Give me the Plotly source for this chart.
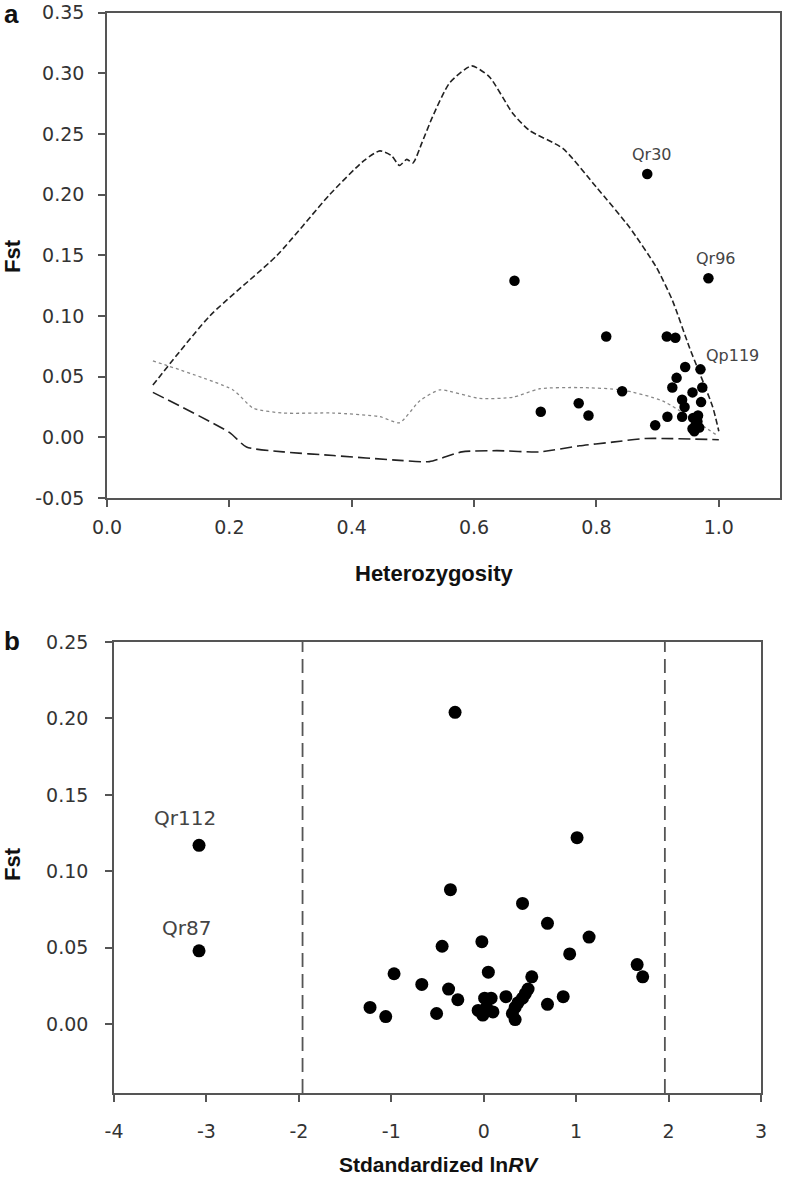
import plotly.graph_objects as go

# ---------- Panel a data ----------
upper_x = [0.075, 0.168, 0.278, 0.364, 0.42, 0.446, 0.465, 0.478, 0.49, 0.50, 0.515, 0.532, 0.56, 0.596, 0.625, 0.663, 0.69, 0.745, 0.80, 0.854, 0.898, 0.924, 0.952, 0.99, 1.0]
upper_y = [0.043, 0.10, 0.15, 0.20, 0.228, 0.236, 0.232, 0.224, 0.229, 0.226, 0.243, 0.264, 0.292, 0.306, 0.297, 0.267, 0.253, 0.238, 0.206, 0.173, 0.140, 0.113, 0.074, 0.025, 0.005]

lower_x = [0.075, 0.20, 0.228, 0.288, 0.37, 0.478, 0.527, 0.58, 0.637, 0.707, 0.772, 0.826, 0.88, 1.0]
lower_y = [0.037, 0.004, -0.008, -0.012, -0.015, -0.019, -0.020, -0.012, -0.011, -0.012, -0.007, -0.004, -0.001, -0.002]

mid_x = [0.075, 0.206, 0.239, 0.288, 0.37, 0.446, 0.478, 0.511, 0.544, 0.609, 0.663, 0.707, 0.772, 0.842, 0.908, 0.996]
mid_y = [0.063, 0.039, 0.024, 0.020, 0.020, 0.017, 0.012, 0.030, 0.039, 0.032, 0.033, 0.040, 0.041, 0.039, 0.030, 0.002]

het = [0.883, 0.983, 0.666, 0.816, 0.915, 0.929, 0.945, 0.970, 0.931, 0.924, 0.973, 0.957, 0.842,
       0.940, 0.971, 0.944, 0.771, 0.709, 0.787, 0.916, 0.940, 0.896,
       0.958, 0.965, 0.962, 0.968, 0.957, 0.966, 0.960]
fst_a = [0.217, 0.131, 0.129, 0.083, 0.083, 0.082, 0.058, 0.056, 0.049, 0.041, 0.041, 0.037, 0.038,
         0.031, 0.029, 0.025, 0.028, 0.021, 0.018, 0.017, 0.017, 0.010,
         0.016, 0.013, 0.010, 0.008, 0.007, 0.018, 0.005]

labels_a = ["Qr30", "Qr96", "Qp119"]
labels_a_x = [0.891, 0.996, 1.022]
labels_a_y = [0.233, 0.147, 0.067]

# ---------- Panel b data ----------
lnrv = [-3.08, -3.08, -1.23, -1.06, -0.97, -0.31, 1.01, -0.36, 0.42, 0.69, 1.14, -0.02, -0.45, 0.93,
        1.66, 1.72, 0.05, 0.52, -0.67, -0.38, -0.28, 0.86, 0.24, 0.69, -0.51,
        0.01, 0.08, -0.06, -0.01, 0.10, 0.03,
        0.48, 0.45, 0.42, 0.37, 0.34, 0.31, 0.34]
fst_b = [0.117, 0.048, 0.011, 0.005, 0.033, 0.204, 0.122, 0.088, 0.079, 0.066, 0.057, 0.054, 0.051, 0.046,
         0.039, 0.031, 0.034, 0.031, 0.026, 0.023, 0.016, 0.018, 0.018, 0.013, 0.007,
         0.017, 0.017, 0.009, 0.006, 0.008, 0.011,
         0.023, 0.020, 0.017, 0.014, 0.011, 0.007, 0.003]

labels_b = ["Qr112", "Qr87"]
labels_b_x = [-3.23, -3.22]
labels_b_y = [0.135, 0.063]

crit = [-1.96, 1.96]

FONT = "Liberation Sans, Arial, sans-serif"
TICKFONT = "DejaVu Sans, Verdana, sans-serif"
AX = "#555555"
TXT = "#333333"

fig = go.Figure()

fig.add_trace(go.Scatter(x=upper_x, y=upper_y, mode="lines", xaxis="x", yaxis="y",
                         line=dict(color="#222222", width=1.6, dash="6px,3px", shape="spline", smoothing=0.6),
                         showlegend=False, hoverinfo="skip"))
fig.add_trace(go.Scatter(x=lower_x, y=lower_y, mode="lines", xaxis="x", yaxis="y",
                         line=dict(color="#222222", width=1.6, dash="12px,5px", shape="spline", smoothing=0.6),
                         showlegend=False, hoverinfo="skip"))
fig.add_trace(go.Scatter(x=mid_x, y=mid_y, mode="lines", xaxis="x", yaxis="y",
                         line=dict(color="#888888", width=1.3, dash="dot", shape="spline", smoothing=0.6),
                         showlegend=False, hoverinfo="skip"))
fig.add_trace(go.Scatter(x=het, y=fst_a, mode="markers", xaxis="x", yaxis="y",
                         marker=dict(color="black", size=10.5), showlegend=False))

for cx in crit:
    fig.add_trace(go.Scatter(x=[cx, cx], y=[-0.045, 0.25], mode="lines", xaxis="x2", yaxis="y2",
                             line=dict(color="#555555", width=1.8, dash="14px,7px"),
                             showlegend=False, hoverinfo="skip"))
fig.add_trace(go.Scatter(x=lnrv, y=fst_b, mode="markers", xaxis="x2", yaxis="y2",
                         marker=dict(color="black", size=13), showlegend=False))

annotations = []
for t, x, y in zip(labels_a, labels_a_x, labels_a_y):
    annotations.append(dict(text=t, x=x, y=y, xref="x", yref="y", showarrow=False,
                            font=dict(family=TICKFONT, size=16, color="#444444")))
for t, x, y in zip(labels_b, labels_b_x, labels_b_y):
    annotations.append(dict(text=t, x=x, y=y, xref="x2", yref="y2", showarrow=False,
                            font=dict(family=TICKFONT, size=20, color="#444444")))

W, H = 785, 1177
def px(xp): return xp / W
def py(yp): return 1 - yp / H

annotations += [
    dict(text="<b>a</b>", x=px(2), y=py(14), xref="paper", yref="paper", showarrow=False,
         xanchor="left", yanchor="middle", font=dict(family=FONT, size=26, color="#111")),
    dict(text="<b>b</b>", x=px(2), y=py(641), xref="paper", yref="paper", showarrow=False,
         xanchor="left", yanchor="middle", font=dict(family=FONT, size=26, color="#111")),
    dict(text="<b>Heterozygosity</b>", x=px(434), y=py(573), xref="paper", yref="paper", showarrow=False,
         xanchor="center", yanchor="middle", font=dict(family=FONT, size=22, color="#111")),
    dict(text="<b>Stdandardized ln<i>RV</i></b>", x=px(439), y=py(1164), xref="paper", yref="paper",
         showarrow=False, xanchor="center", yanchor="middle", font=dict(family=FONT, size=21, color="#111")),
    dict(text="<b>Fst</b>", x=px(12), y=py(256), xref="paper", yref="paper", showarrow=False, textangle=-90,
         xanchor="center", yanchor="middle", font=dict(family=FONT, size=22, color="#111")),
    dict(text="<b>Fst</b>", x=px(12), y=py(864), xref="paper", yref="paper", showarrow=False, textangle=-90,
         xanchor="center", yanchor="middle", font=dict(family=FONT, size=22, color="#111")),
]

def axstyle(standoff):
    return dict(showline=True, linecolor=AX, linewidth=1.6, mirror=True, showgrid=False, zeroline=False,
                ticks="outside", ticklen=7, tickcolor=AX, tickwidth=1.6, automargin=False,
                ticklabelstandoff=standoff,
                tickfont=dict(family=TICKFONT, size=19, color=TXT))

fig.update_layout(
    width=W, height=H, margin=dict(l=0, r=0, t=0, b=0),
    paper_bgcolor="white", plot_bgcolor="white",
    xaxis=dict(domain=[px(107), px(780)], range=[0, 1.1], tickvals=[0, 0.2, 0.4, 0.6, 0.8, 1.0],
               ticktext=["0.0", "0.2", "0.4", "0.6", "0.8", "1.0"], anchor="y", **axstyle(4)),
    yaxis=dict(domain=[py(498), py(12.5)], range=[-0.05, 0.35],
               tickvals=[-0.05, 0, 0.05, 0.1, 0.15, 0.2, 0.25, 0.3, 0.35],
               ticktext=["-0.05", "0.00", "0.05", "0.10", "0.15", "0.20", "0.25", "0.30", "0.35"],
               anchor="x", **axstyle(10)),
    xaxis2=dict(domain=[px(114), px(761)], range=[-4, 3], tickvals=[-4, -3, -2, -1, 0, 1, 2, 3],
                ticktext=["-4", "-3", "-2", "-1", "0", "1", "2", "3"], anchor="y2", **axstyle(13)),
    yaxis2=dict(domain=[py(1093), py(642)], range=[-0.045, 0.25],
                tickvals=[0, 0.05, 0.1, 0.15, 0.2, 0.25],
                ticktext=["0.00", "0.05", "0.10", "0.15", "0.20", "0.25"], anchor="x2", **axstyle(13)),
    annotations=annotations,
)

fig.write_html("out.html", config={"displayModeBar": False},
               post_script="document.body.style.margin='0px';document.body.style.overflow='hidden';")
